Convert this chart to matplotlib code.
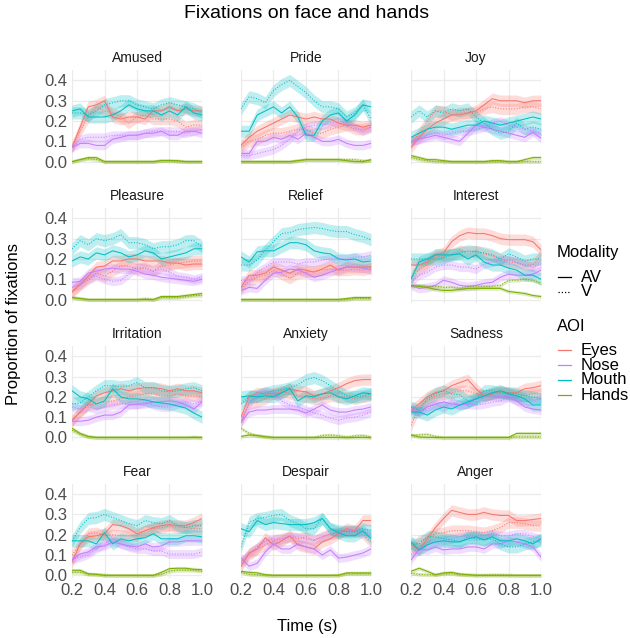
import numpy as np
import matplotlib
matplotlib.use("Agg")
import matplotlib.pyplot as plt
from matplotlib.lines import Line2D

plt.rcParams['font.family'] = ['Liberation Sans', 'DejaVu Sans']

# time bins (s)
time_s = [0.2, 0.25, 0.3, 0.35, 0.4, 0.45, 0.5, 0.55, 0.6, 0.65, 0.7, 0.75, 0.8, 0.85, 0.9, 0.95, 1.0]

aois = ["Eyes", "Nose", "Mouth", "Hands"]
modalities = ["AV", "V"]
aoi_colors = {"Eyes": "#F8766D", "Nose": "#C77CFF", "Mouth": "#00BFC4", "Hands": "#7CAE00"}
# half width of the error ribbons
band = {"Eyes": 0.028, "Nose": 0.022, "Mouth": 0.03, "Hands": 0.009}

# mean proportion of fixations per emotion, AOI and modality
amused = dict(
    eyes_av=[0.07, 0.17, 0.27, 0.28, 0.30, 0.22, 0.21, 0.22, 0.22, 0.21, 0.25, 0.25, 0.27, 0.25, 0.26, 0.25, 0.25],
    eyes_v=[0.07, 0.15, 0.22, 0.27, 0.25, 0.24, 0.22, 0.19, 0.22, 0.23, 0.21, 0.21, 0.21, 0.20, 0.17, 0.18, 0.18],
    nose_av=[0.07, 0.09, 0.09, 0.08, 0.08, 0.11, 0.12, 0.13, 0.13, 0.14, 0.14, 0.15, 0.13, 0.13, 0.15, 0.15, 0.14],
    nose_v=[0.07, 0.11, 0.12, 0.12, 0.12, 0.13, 0.13, 0.13, 0.13, 0.14, 0.15, 0.15, 0.15, 0.15, 0.14, 0.15, 0.16],
    mouth_av=[0.25, 0.26, 0.22, 0.22, 0.22, 0.23, 0.25, 0.28, 0.26, 0.25, 0.25, 0.23, 0.25, 0.23, 0.27, 0.24, 0.23],
    mouth_v=[0.24, 0.24, 0.23, 0.25, 0.28, 0.29, 0.30, 0.30, 0.28, 0.27, 0.26, 0.28, 0.29, 0.28, 0.27, 0.26, 0.24],
    hands_av=[0.0, 0.01, 0.02, 0.02, 0.0, 0.0, 0.0, 0.0, 0.0, 0.0, 0.0, 0.005, 0.005, 0.005, 0.0, 0.0, 0.0],
    hands_v=[0.0, 0.01, 0.015, 0.01, 0.0, 0.0, 0.0, 0.0, 0.0, 0.0, 0.0, 0.005, 0.005, 0.0, 0.0, 0.0, 0.0],
)
pride = dict(
    eyes_av=[0.08, 0.12, 0.15, 0.17, 0.19, 0.21, 0.23, 0.22, 0.21, 0.22, 0.21, 0.21, 0.19, 0.18, 0.18, 0.17, 0.18],
    eyes_v=[0.07, 0.10, 0.11, 0.13, 0.14, 0.14, 0.15, 0.16, 0.16, 0.14, 0.14, 0.16, 0.17, 0.18, 0.16, 0.16, 0.17],
    nose_av=[0.04, 0.04, 0.10, 0.10, 0.12, 0.11, 0.13, 0.11, 0.14, 0.12, 0.10, 0.10, 0.11, 0.09, 0.08, 0.08, 0.09],
    nose_v=[0.03, 0.03, 0.04, 0.05, 0.06, 0.08, 0.11, 0.15, 0.17, 0.18, 0.18, 0.19, 0.20, 0.19, 0.17, 0.15, 0.17],
    mouth_av=[0.15, 0.15, 0.23, 0.25, 0.27, 0.24, 0.27, 0.22, 0.13, 0.13, 0.20, 0.23, 0.24, 0.20, 0.23, 0.28, 0.27],
    mouth_v=[0.26, 0.32, 0.31, 0.29, 0.35, 0.38, 0.40, 0.37, 0.34, 0.30, 0.27, 0.27, 0.26, 0.22, 0.24, 0.28, 0.21],
    hands_av=[0.0, 0.0, 0.0, 0.0, 0.0, 0.0, 0.0, 0.005, 0.01, 0.01, 0.01, 0.01, 0.01, 0.005, 0.0, 0.0, 0.01],
    hands_v=[0.0, 0.0, 0.0, 0.0, 0.0, 0.0, 0.0, 0.005, 0.01, 0.01, 0.01, 0.01, 0.01, 0.01, 0.01, 0.005, 0.005],
)
joy = dict(
    eyes_av=[0.07, 0.12, 0.16, 0.19, 0.21, 0.23, 0.23, 0.24, 0.25, 0.28, 0.31, 0.30, 0.30, 0.30, 0.29, 0.30, 0.30],
    eyes_v=[0.09, 0.14, 0.20, 0.25, 0.25, 0.23, 0.24, 0.24, 0.24, 0.26, 0.27, 0.26, 0.26, 0.26, 0.27, 0.27, 0.26],
    nose_av=[0.10, 0.11, 0.12, 0.13, 0.12, 0.11, 0.10, 0.14, 0.18, 0.17, 0.16, 0.15, 0.14, 0.13, 0.12, 0.145, 0.115],
    nose_v=[0.10, 0.11, 0.13, 0.14, 0.13, 0.14, 0.15, 0.15, 0.16, 0.17, 0.19, 0.20, 0.18, 0.17, 0.16, 0.15, 0.14],
    mouth_av=[0.12, 0.14, 0.16, 0.17, 0.17, 0.16, 0.17, 0.18, 0.18, 0.20, 0.19, 0.18, 0.19, 0.20, 0.21, 0.22, 0.21],
    mouth_v=[0.22, 0.25, 0.22, 0.25, 0.24, 0.26, 0.25, 0.26, 0.22, 0.19, 0.16, 0.14, 0.15, 0.19, 0.16, 0.17, 0.16],
    hands_av=[0.03, 0.02, 0.01, 0.01, 0.005, 0.0, 0.0, 0.0, 0.0, 0.0, 0.005, 0.005, 0.0, 0.0, 0.01, 0.02, 0.02],
    hands_v=[0.02, 0.01, 0.005, 0.0, 0.0, 0.0, 0.0, 0.0, 0.0, 0.0, 0.0, 0.0, 0.0, 0.0, 0.0, 0.0, 0.0],
)
pleasure = dict(
    eyes_av=[0.04, 0.075, 0.115, 0.16, 0.165, 0.19, 0.19, 0.20, 0.20, 0.19, 0.19, 0.19, 0.18, 0.18, 0.17, 0.175, 0.175],
    eyes_v=[0.035, 0.07, 0.10, 0.13, 0.115, 0.14, 0.165, 0.165, 0.15, 0.155, 0.14, 0.165, 0.17, 0.18, 0.185, 0.19, 0.19],
    nose_av=[0.085, 0.09, 0.13, 0.14, 0.15, 0.155, 0.15, 0.15, 0.14, 0.125, 0.12, 0.11, 0.105, 0.10, 0.095, 0.09, 0.10],
    nose_v=[0.06, 0.075, 0.10, 0.115, 0.10, 0.09, 0.095, 0.125, 0.16, 0.155, 0.14, 0.15, 0.135, 0.115, 0.11, 0.10, 0.11],
    mouth_av=[0.19, 0.21, 0.20, 0.23, 0.22, 0.24, 0.23, 0.21, 0.22, 0.24, 0.23, 0.20, 0.21, 0.22, 0.23, 0.25, 0.25],
    mouth_v=[0.25, 0.29, 0.27, 0.30, 0.29, 0.30, 0.32, 0.28, 0.28, 0.27, 0.25, 0.26, 0.26, 0.27, 0.29, 0.29, 0.26],
    hands_av=[0.01, 0.005, 0.0, 0.0, 0.0, 0.0, 0.0, 0.0, 0.0, 0.0, 0.0, 0.015, 0.015, 0.015, 0.02, 0.025, 0.03],
    hands_v=[0.01, 0.005, 0.0, 0.0, 0.0, 0.0, 0.0, 0.0, 0.0, 0.005, 0.0, 0.01, 0.01, 0.01, 0.015, 0.02, 0.02],
)
relief = dict(
    eyes_av=[0.06, 0.12, 0.12, 0.13, 0.16, 0.145, 0.13, 0.15, 0.145, 0.135, 0.15, 0.17, 0.145, 0.16, 0.16, 0.16, 0.16],
    eyes_v=[0.055, 0.09, 0.11, 0.12, 0.145, 0.125, 0.105, 0.13, 0.135, 0.14, 0.145, 0.15, 0.145, 0.145, 0.15, 0.145, 0.155],
    nose_av=[0.045, 0.06, 0.055, 0.095, 0.13, 0.135, 0.15, 0.145, 0.13, 0.11, 0.12, 0.135, 0.15, 0.16, 0.16, 0.155, 0.145],
    nose_v=[0.095, 0.095, 0.135, 0.16, 0.185, 0.185, 0.185, 0.175, 0.185, 0.185, 0.195, 0.20, 0.20, 0.20, 0.21, 0.21, 0.22],
    mouth_av=[0.21, 0.185, 0.235, 0.24, 0.24, 0.26, 0.28, 0.28, 0.27, 0.24, 0.23, 0.225, 0.20, 0.195, 0.20, 0.185, 0.19],
    mouth_v=[0.17, 0.17, 0.195, 0.245, 0.285, 0.325, 0.33, 0.345, 0.35, 0.355, 0.35, 0.34, 0.335, 0.335, 0.32, 0.31, 0.295],
    hands_av=[0.0, 0.0, 0.0, 0.0, 0.0, 0.0, 0.0, 0.0, 0.0, 0.0, 0.0, 0.0, 0.0, 0.005, 0.01, 0.01, 0.01],
    hands_v=[0.0, 0.0, 0.0, 0.0, 0.0, 0.0, 0.0, 0.0, 0.0, 0.0, 0.0, 0.0, 0.0, 0.0, 0.005, 0.005, 0.005],
)
interest = dict(
    eyes_av=[0.17, 0.17, 0.185, 0.22, 0.23, 0.285, 0.315, 0.33, 0.325, 0.325, 0.315, 0.30, 0.295, 0.295, 0.295, 0.285, 0.245],
    eyes_v=[0.11, 0.145, 0.175, 0.21, 0.215, 0.225, 0.24, 0.235, 0.24, 0.225, 0.215, 0.20, 0.185, 0.18, 0.17, 0.17, 0.22],
    nose_av=[0.07, 0.055, 0.06, 0.07, 0.095, 0.085, 0.07, 0.065, 0.07, 0.08, 0.085, 0.11, 0.125, 0.12, 0.12, 0.125, 0.145],
    nose_v=[0.085, 0.12, 0.135, 0.16, 0.17, 0.17, 0.16, 0.16, 0.15, 0.175, 0.185, 0.195, 0.195, 0.185, 0.17, 0.16, 0.175],
    mouth_av=[0.10, 0.185, 0.20, 0.22, 0.22, 0.22, 0.225, 0.20, 0.22, 0.185, 0.17, 0.17, 0.155, 0.145, 0.12, 0.12, 0.10],
    mouth_v=[0.20, 0.20, 0.20, 0.20, 0.205, 0.22, 0.23, 0.24, 0.235, 0.23, 0.22, 0.20, 0.225, 0.21, 0.19, 0.20, 0.20],
    hands_av=[0.07, 0.065, 0.06, 0.05, 0.045, 0.045, 0.05, 0.055, 0.055, 0.055, 0.055, 0.055, 0.04, 0.035, 0.03, 0.02, 0.015],
    hands_v=[0.065, 0.07, 0.065, 0.065, 0.06, 0.06, 0.055, 0.065, 0.065, 0.065, 0.065, 0.07, 0.095, 0.095, 0.10, 0.095, 0.08],
)
irritation = dict(
    eyes_av=[0.085, 0.125, 0.165, 0.205, 0.22, 0.23, 0.24, 0.23, 0.24, 0.245, 0.245, 0.24, 0.23, 0.24, 0.23, 0.23, 0.22],
    eyes_v=[0.08, 0.125, 0.16, 0.165, 0.175, 0.18, 0.19, 0.20, 0.205, 0.215, 0.215, 0.205, 0.205, 0.215, 0.205, 0.205, 0.20],
    nose_av=[0.08, 0.08, 0.085, 0.10, 0.11, 0.11, 0.125, 0.16, 0.165, 0.165, 0.175, 0.175, 0.18, 0.175, 0.16, 0.14, 0.175],
    nose_v=[0.15, 0.14, 0.15, 0.14, 0.15, 0.16, 0.165, 0.165, 0.16, 0.175, 0.16, 0.15, 0.15, 0.165, 0.175, 0.165, 0.18],
    mouth_av=[0.23, 0.20, 0.19, 0.165, 0.18, 0.24, 0.20, 0.19, 0.19, 0.185, 0.175, 0.17, 0.165, 0.155, 0.145, 0.12, 0.10],
    mouth_v=[0.165, 0.17, 0.20, 0.23, 0.255, 0.255, 0.25, 0.255, 0.27, 0.245, 0.245, 0.23, 0.225, 0.23, 0.24, 0.245, 0.23],
    hands_av=[0.045, 0.02, 0.005, 0.0, 0.0, 0.0, 0.0, 0.0, 0.0, 0.0, 0.0, 0.0, 0.0, 0.0, 0.0, 0.0, 0.0],
    hands_v=[0.035, 0.015, 0.003, 0.0, 0.0, 0.0, 0.0, 0.0, 0.0, 0.0, 0.0, 0.0, 0.0, 0.0, 0.0, 0.003, 0.0],
)
anxiety = dict(
    eyes_av=[0.10, 0.20, 0.22, 0.215, 0.215, 0.22, 0.24, 0.23, 0.225, 0.205, 0.215, 0.23, 0.245, 0.265, 0.28, 0.285, 0.285],
    eyes_v=[0.075, 0.165, 0.175, 0.19, 0.215, 0.23, 0.215, 0.205, 0.20, 0.19, 0.19, 0.205, 0.20, 0.20, 0.19, 0.20, 0.205],
    nose_av=[0.075, 0.125, 0.135, 0.135, 0.14, 0.14, 0.14, 0.135, 0.12, 0.14, 0.16, 0.135, 0.125, 0.125, 0.135, 0.14, 0.15],
    nose_v=[0.085, 0.165, 0.215, 0.23, 0.215, 0.18, 0.16, 0.15, 0.135, 0.12, 0.11, 0.095, 0.085, 0.095, 0.10, 0.11, 0.125],
    mouth_av=[0.20, 0.205, 0.20, 0.205, 0.20, 0.22, 0.24, 0.18, 0.205, 0.20, 0.215, 0.22, 0.20, 0.19, 0.205, 0.22, 0.215],
    mouth_v=[0.165, 0.20, 0.205, 0.22, 0.23, 0.235, 0.245, 0.26, 0.285, 0.295, 0.28, 0.255, 0.23, 0.205, 0.20, 0.205, 0.215],
    hands_av=[0.005, 0.012, 0.01, 0.003, 0.0, 0.0, 0.0, 0.0, 0.0, 0.0, 0.0, 0.0, 0.0, 0.0, 0.0, 0.0, 0.0],
    hands_v=[0.045, 0.02, 0.008, 0.005, 0.0, 0.0, 0.0, 0.0, 0.0, 0.0, 0.01, 0.012, 0.008, 0.002, 0.008, 0.01, 0.002],
)
sadness = dict(
    eyes_av=[0.135, 0.165, 0.20, 0.22, 0.23, 0.255, 0.27, 0.285, 0.24, 0.205, 0.215, 0.23, 0.22, 0.22, 0.24, 0.245, 0.255],
    eyes_v=[0.06, 0.15, 0.18, 0.205, 0.215, 0.22, 0.23, 0.23, 0.215, 0.205, 0.215, 0.22, 0.215, 0.205, 0.205, 0.215, 0.215],
    nose_av=[0.135, 0.125, 0.15, 0.165, 0.175, 0.165, 0.16, 0.165, 0.19, 0.205, 0.205, 0.20, 0.20, 0.18, 0.15, 0.14, 0.135],
    nose_v=[0.15, 0.125, 0.14, 0.165, 0.145, 0.175, 0.16, 0.165, 0.16, 0.165, 0.175, 0.18, 0.20, 0.18, 0.175, 0.18, 0.19],
    mouth_av=[0.125, 0.125, 0.11, 0.135, 0.15, 0.14, 0.16, 0.175, 0.19, 0.205, 0.22, 0.23, 0.215, 0.205, 0.19, 0.16, 0.16],
    mouth_v=[0.15, 0.135, 0.19, 0.215, 0.23, 0.215, 0.21, 0.18, 0.19, 0.23, 0.23, 0.22, 0.22, 0.215, 0.205, 0.20, 0.19],
    hands_av=[0.013, 0.002, 0.0, 0.0, 0.0, 0.0, 0.0, 0.0, 0.0, 0.0, 0.0, 0.0, 0.0, 0.02, 0.02, 0.02, 0.02],
    hands_v=[0.01, 0.013, 0.015, 0.005, 0.0, 0.0, 0.0, 0.0, 0.0, 0.0, 0.0, 0.0, 0.0, 0.003, 0.003, 0.003, 0.003],
)
fear = dict(
    eyes_av=[0.065, 0.155, 0.19, 0.195, 0.205, 0.25, 0.245, 0.23, 0.205, 0.22, 0.235, 0.245, 0.25, 0.245, 0.245, 0.26, 0.28],
    eyes_v=[0.10, 0.155, 0.205, 0.21, 0.195, 0.20, 0.195, 0.195, 0.195, 0.22, 0.23, 0.235, 0.245, 0.235, 0.235, 0.23, 0.23],
    nose_av=[0.075, 0.105, 0.115, 0.14, 0.145, 0.165, 0.155, 0.145, 0.14, 0.155, 0.14, 0.145, 0.165, 0.165, 0.17, 0.17, 0.17],
    nose_v=[0.08, 0.09, 0.105, 0.13, 0.155, 0.18, 0.155, 0.14, 0.13, 0.13, 0.12, 0.12, 0.105, 0.105, 0.105, 0.105, 0.115],
    mouth_av=[0.17, 0.17, 0.17, 0.155, 0.21, 0.155, 0.18, 0.17, 0.18, 0.185, 0.205, 0.18, 0.18, 0.18, 0.195, 0.195, 0.19],
    mouth_v=[0.17, 0.235, 0.28, 0.285, 0.30, 0.285, 0.27, 0.255, 0.245, 0.27, 0.26, 0.255, 0.27, 0.245, 0.235, 0.245, 0.245],
    hands_av=[0.025, 0.025, 0.008, 0.005, 0.0, 0.0, 0.0, 0.0, 0.0, 0.0, 0.0, 0.015, 0.033, 0.035, 0.035, 0.03, 0.028],
    hands_v=[0.015, 0.015, 0.005, 0.005, 0.002, 0.0, 0.0, 0.0, 0.0, 0.0, 0.0, 0.005, 0.02, 0.025, 0.025, 0.025, 0.02],
)
despair = dict(
    eyes_av=[0.045, 0.11, 0.13, 0.185, 0.15, 0.17, 0.195, 0.15, 0.14, 0.13, 0.165, 0.18, 0.205, 0.23, 0.22, 0.27, 0.27],
    eyes_v=[0.06, 0.10, 0.13, 0.15, 0.17, 0.18, 0.19, 0.18, 0.19, 0.17, 0.19, 0.205, 0.21, 0.22, 0.22, 0.205, 0.165],
    nose_av=[0.085, 0.045, 0.06, 0.115, 0.155, 0.13, 0.13, 0.155, 0.14, 0.13, 0.10, 0.125, 0.085, 0.09, 0.10, 0.11, 0.13],
    nose_v=[0.07, 0.11, 0.14, 0.17, 0.18, 0.18, 0.19, 0.19, 0.18, 0.175, 0.19, 0.205, 0.21, 0.22, 0.22, 0.21, 0.21],
    mouth_av=[0.23, 0.215, 0.27, 0.25, 0.26, 0.255, 0.25, 0.25, 0.25, 0.26, 0.28, 0.23, 0.21, 0.195, 0.195, 0.22, 0.18],
    mouth_v=[0.14, 0.26, 0.28, 0.285, 0.295, 0.30, 0.27, 0.255, 0.23, 0.23, 0.28, 0.23, 0.22, 0.215, 0.215, 0.23, 0.22],
    hands_av=[0.02, 0.015, 0.012, 0.003, 0.0, 0.0, 0.0, 0.0, 0.0, 0.0, 0.0, 0.0, 0.0, 0.012, 0.012, 0.012, 0.012],
    hands_v=[0.015, 0.005, 0.002, 0.0, 0.0, 0.0, 0.0, 0.0, 0.0, 0.0, 0.0, 0.0, 0.002, 0.008, 0.008, 0.008, 0.008],
)
anger = dict(
    eyes_av=[0.15, 0.125, 0.18, 0.235, 0.28, 0.32, 0.31, 0.30, 0.30, 0.31, 0.30, 0.295, 0.295, 0.27, 0.27, 0.275, 0.28],
    eyes_v=[0.13, 0.17, 0.18, 0.205, 0.21, 0.22, 0.22, 0.22, 0.215, 0.21, 0.22, 0.235, 0.26, 0.26, 0.255, 0.245, 0.245],
    nose_av=[0.075, 0.13, 0.125, 0.14, 0.125, 0.13, 0.13, 0.14, 0.14, 0.13, 0.155, 0.155, 0.17, 0.165, 0.155, 0.14, 0.09],
    nose_v=[0.10, 0.125, 0.15, 0.165, 0.17, 0.18, 0.19, 0.195, 0.195, 0.195, 0.205, 0.195, 0.195, 0.205, 0.205, 0.19, 0.18],
    mouth_av=[0.165, 0.125, 0.15, 0.165, 0.17, 0.165, 0.165, 0.18, 0.19, 0.175, 0.19, 0.17, 0.17, 0.18, 0.17, 0.155, 0.18],
    mouth_v=[0.155, 0.155, 0.19, 0.19, 0.18, 0.175, 0.165, 0.19, 0.18, 0.175, 0.18, 0.155, 0.14, 0.14, 0.155, 0.165, 0.17],
    hands_av=[0.02, 0.035, 0.02, 0.003, 0.012, 0.015, 0.007, 0.003, 0.0, 0.0, 0.0, 0.0, 0.0, 0.0, 0.0, 0.0, 0.0],
    hands_v=[0.01, 0.005, 0.003, 0.003, 0.008, 0.008, 0.003, 0.003, 0.002, 0.002, 0.003, 0.003, 0.002, 0.0, 0.0, 0.0, 0.0],
)

panels = [
    ("Amused", amused), ("Pride", pride), ("Joy", joy),
    ("Pleasure", pleasure), ("Relief", relief), ("Interest", interest),
    ("Irritation", irritation), ("Anxiety", anxiety), ("Sadness", sadness),
    ("Fear", fear), ("Despair", despair), ("Anger", anger),
]

line_styles = {"AV": "-", "V": (0, (1, 1.6))}
grey_text = "#4D4D4D"

W, H = 630, 638
fig = plt.figure(figsize=(W / 100, H / 100), dpi=100)

col_left = [72, 241, 411]
panel_w = 130
panel_h = 94.4
row_bottom = [164.7, 302.6, 440.5, 578.4]

t = np.array(time_s)
for k, (name, d) in enumerate(panels):
    r, c = divmod(k, 3)
    ax = fig.add_axes([col_left[c] / W, 1 - row_bottom[r] / H, panel_w / W, panel_h / H])
    ax.set_facecolor("white")
    for s in ax.spines.values():
        s.set_visible(False)
    ax.grid(True, color="#EBEBEB", linewidth=0.9)
    ax.set_axisbelow(True)

    # ribbons first, lines on top
    for aoi in aois:
        for mod in modalities:
            y = np.array(d[f"{aoi.lower()}_{mod.lower()}"])
            ax.fill_between(t, y - band[aoi], y + band[aoi], color=aoi_colors[aoi],
                            alpha=0.25, linewidth=0)
    for aoi in aois:
        for mod in modalities:
            y = np.array(d[f"{aoi.lower()}_{mod.lower()}"])
            ax.plot(t, y, color=aoi_colors[aoi], linestyle=line_styles[mod], linewidth=0.75)

    ax.set_xlim(0.2, 1.0)
    ax.set_ylim(-0.015, 0.45)
    ax.set_xticks([0.2, 0.4, 0.6, 0.8, 1.0])
    ax.set_yticks([0.0, 0.1, 0.2, 0.3, 0.4])
    ax.tick_params(length=0, labelsize=12, labelcolor=grey_text, pad=3)
    if c == 0:
        ax.set_yticklabels(["0.0", "0.1", "0.2", "0.3", "0.4"])
    else:
        ax.set_yticklabels([])
    if r == 3:
        ax.set_xticklabels(["0.2", "0.4", "0.6", "0.8", "1.0"])
    else:
        ax.set_xticklabels([])
    ax.set_title(name, fontsize=10, color="#1A1A1A", pad=6)

fig.text(307 / W, 1 - 14 / H, "Fixations on face and hands", ha="center", va="center", fontsize=14)
fig.text(307 / W, 1 - 627 / H, "Time (s)", ha="center", va="center", fontsize=12)
fig.text(14 / W, 1 - 324 / H, "Proportion of fixations", ha="center", va="center",
         rotation=90, fontsize=12)

# legends
key_x0, key_x1, label_x = 558 / W, 571 / W, 581 / W
fig.text(557 / W, 1 - 253 / H, "Modality", ha="left", va="center", fontsize=12)
for i, mod in enumerate(modalities):
    yy = 1 - (277 + 14.5 * i) / H
    fig.add_artist(Line2D([key_x0, key_x1], [yy, yy], color="black", linewidth=0.9,
                          linestyle=line_styles[mod], transform=fig.transFigure))
    fig.text(label_x, yy, mod, ha="left", va="center", fontsize=12)

fig.text(557 / W, 1 - 327 / H, "AOI", ha="left", va="center", fontsize=12)
for i, aoi in enumerate(aois):
    yy = 1 - (350 + 15 * i) / H
    fig.add_artist(Line2D([key_x0, key_x1], [yy, yy], color=aoi_colors[aoi], linewidth=0.9,
                          transform=fig.transFigure))
    fig.text(label_x, yy, aoi, ha="left", va="center", fontsize=12)

fig.savefig("out.png", dpi=100, facecolor="white")
